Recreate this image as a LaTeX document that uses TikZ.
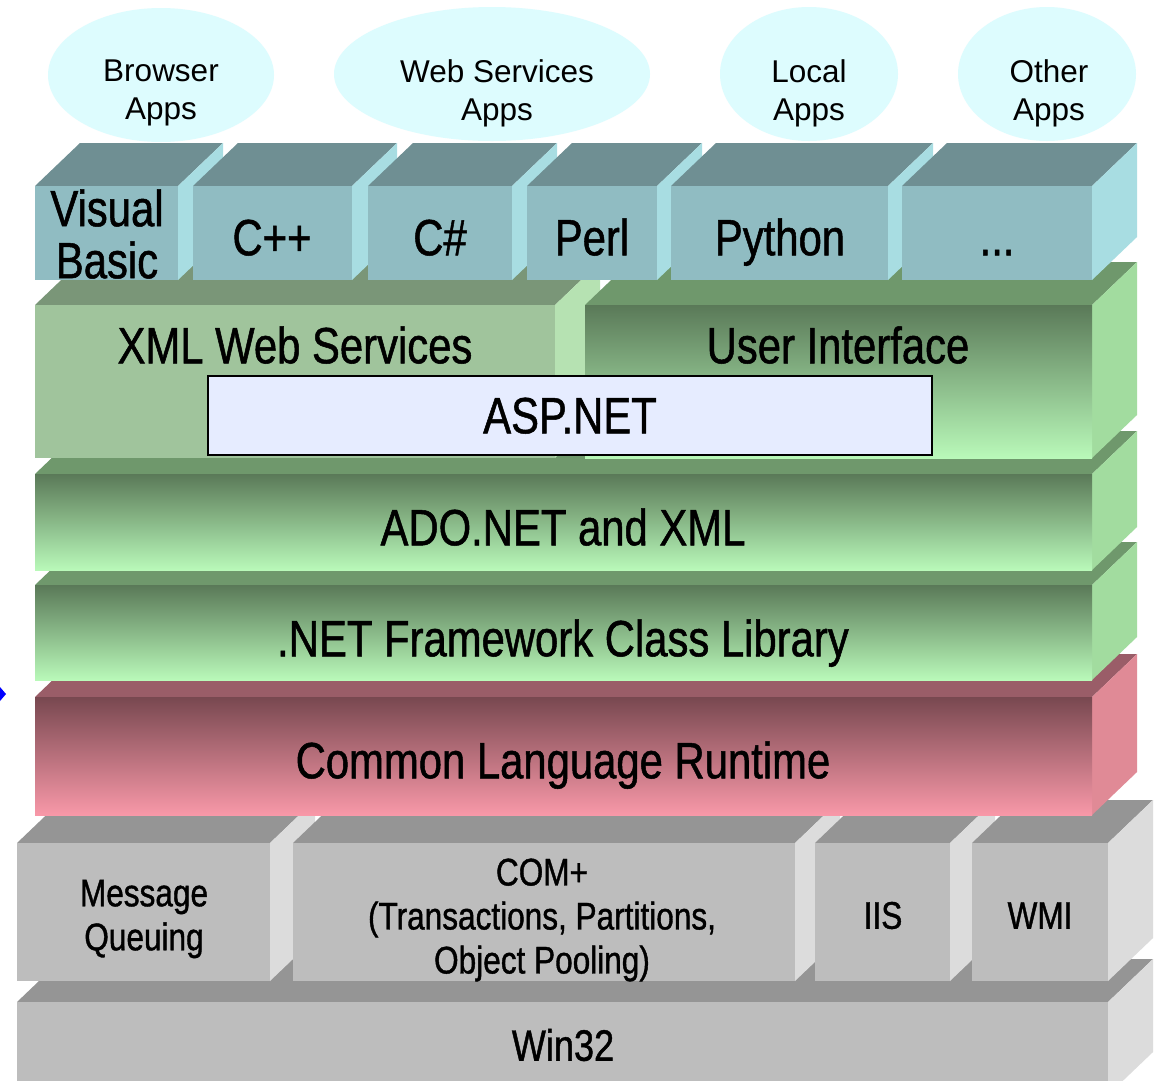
\documentclass[tikz,border=0pt]{standalone}
\usepackage{fontspec}
\setmainfont{Liberation Sans}
\newfontfamily\narrow[FakeStretch=0.82,FakeBold=1]{Liberation Sans}
\definecolor{cloudc}{HTML}{DDFCFE}
\definecolor{langtop}{HTML}{6F8F93}
\definecolor{langfront}{HTML}{90BCC2}
\definecolor{langside}{HTML}{A8DDE2}
\definecolor{xmltop}{HTML}{7A9678}
\definecolor{xmlfront}{HTML}{A0C49C}
\definecolor{xmlside}{HTML}{B6E2B2}
\definecolor{grtop}{HTML}{6F986C}
\definecolor{grside}{HTML}{A2DC9F}
\definecolor{grdark}{HTML}{5A7958}
\definecolor{grmid}{HTML}{88B486}
\definecolor{grlight}{HTML}{B9F9B9}
\definecolor{clrtop}{HTML}{9A5D68}
\definecolor{clrside}{HTML}{E08A96}
\definecolor{clrdark}{HTML}{784850}
\definecolor{clrmid}{HTML}{C47884}
\definecolor{clrlight}{HTML}{F898A8}
\definecolor{gytop}{HTML}{959595}
\definecolor{gyfront}{HTML}{BDBDBD}
\definecolor{gyside}{HTML}{DCDCDC}
\definecolor{aspfill}{HTML}{E6ECFF}
\newcommand\bigf{\narrow\fontsize{51}{52}\selectfont}
\newcommand\grayf{\narrow\fontsize{38.5}{44}\selectfont}
\newcommand\winf{\narrow\fontsize{44}{48}\selectfont}
\newcommand\cloudf{\fontsize{31.5}{38}\selectfont}
% x1 y1 x2 y2 topcolor sidecolor frontoptions
\newcommand\cube[7]{%
 \fill[#5] (#1,#2) -- (#1+45,#2-43) -- (#3+45,#2-43) -- (#3,#2) -- cycle;
 \fill[#6] (#3,#2) -- (#3+45,#2-43) -- (#3+45,#4-43) -- (#3,#4) -- cycle;
 \path[#7] (#1,#2) rectangle (#3,#4);
}
\tikzset{
 biglab/.style={font=\bigf, inner sep=0pt, text height=36.5pt, text depth=0pt},
 bigml/.style={font=\bigf, inner sep=0pt, align=center},
 graylab/.style={font=\grayf, inner sep=0pt, text height=27.5pt, text depth=0pt},
 grayml/.style={font=\grayf, inner sep=0pt, align=center},
 cloudlab/.style={font=\cloudf, inner sep=0pt, align=center},
 cloud/.style={fill=cloudc},
 grgrad/.style={top color=grdark, middle color=grmid, bottom color=grlight},
 clrgrad/.style={top color=clrdark, middle color=clrmid, bottom color=clrlight},
}
\begin{document}
\begin{tikzpicture}[x=1pt,y=-1pt]
\useasboundingbox (0,0) rectangle (1164,1080);
\clip (0,0) rectangle (1164,1080);
\fill[white] (0,0) rectangle (1164,1080);

% application clouds
\fill[cloud] (161,75) ellipse [x radius=113pt, y radius=67pt];
\fill[cloud] (492,74) ellipse [x radius=158pt, y radius=67pt];
\fill[cloud] (809,74) ellipse [x radius=89pt, y radius=67pt];
\fill[cloud] (1047,74) ellipse [x radius=89pt, y radius=67pt];
\node[cloudlab] (browser) at (161,93) {Browser\\Apps};
\node[cloudlab] (websvc) at (497,93) {Web Services\\Apps};
\node[cloudlab] (local) at (809,93) {Local\\Apps};
\node[cloudlab] (other) at (1049,93) {Other\\Apps};

% Win32
\cube{17}{1002}{1108}{1095}{gytop}{gyside}{fill=gyfront}
% gray service row
\cube{17}{843}{270}{981}{gytop}{gyside}{fill=gyfront}
\cube{293}{843}{795}{981}{gytop}{gyside}{fill=gyfront}
\cube{815}{843}{950}{981}{gytop}{gyside}{fill=gyfront}
\cube{972}{843}{1108}{981}{gytop}{gyside}{fill=gyfront}
% CLR
\cube{35}{697}{1092}{815}{clrtop}{clrside}{clrgrad}
% FCL
\cube{35}{585}{1092}{680}{grtop}{grside}{grgrad}
% ADO
\cube{35}{474}{1092}{570}{grtop}{grside}{grgrad}
% XML Web Services and User Interface
\cube{35}{305}{555}{458}{xmltop}{xmlside}{fill=xmlfront}
\cube{585}{305}{1092}{458}{grtop}{grside}{grgrad}
% ASP.NET
\draw[line width=2.2pt, fill=aspfill] (208,376) rectangle (932,455);
% languages
\cube{35}{186}{178}{280}{langtop}{langside}{fill=langfront}
\cube{193}{186}{352}{280}{langtop}{langside}{fill=langfront}
\cube{368}{186}{512}{280}{langtop}{langside}{fill=langfront}
\cube{527}{186}{657}{280}{langtop}{langside}{fill=langfront}
\cube{671}{186}{888}{280}{langtop}{langside}{fill=langfront}
\cube{902}{186}{1092}{280}{langtop}{langside}{fill=langfront}

% blue marker at left edge
\fill[blue] (0,687) -- (6,694) -- (0,701) -- cycle;

% labels
\node[bigml] (vb) at (107,234) {Visual\\Basic};
\node[biglab] (cpp) at (272,237) {C++};
\node[biglab] (cs) at (440,237) {C\#};
\node[biglab] (perl) at (592,237) {Perl};
\node[biglab] (python) at (780,237) {Python};
\node[biglab] (more) at (997,237) {...};
\node[biglab] (xml) at (295,345) {XML Web Services};
\node[biglab] (ui) at (838,345) {User Interface};
\node[biglab] (asp) at (570,415) {ASP.NET};
\node[biglab] (ado) at (563,527) {ADO.NET and XML};
\node[biglab] (fcl) at (563,638) {.NET Framework Class Library};
\node[biglab] (clr) at (563,760) {Common Language Runtime};
\node[grayml] (mq) at (144,919) {Message\\Queuing};
\node[grayml] (com) at (542,920) {COM+\\(Transactions, Partitions,\\Object Pooling)};
\node[graylab] (iis) at (883,915) {IIS};
\node[graylab] (wmi) at (1040,915) {WMI};
\node[font=\winf, inner sep=0pt, text height=31.5pt, text depth=0pt] (win) at (563,1045) {Win32};
\end{tikzpicture}
\end{document}
